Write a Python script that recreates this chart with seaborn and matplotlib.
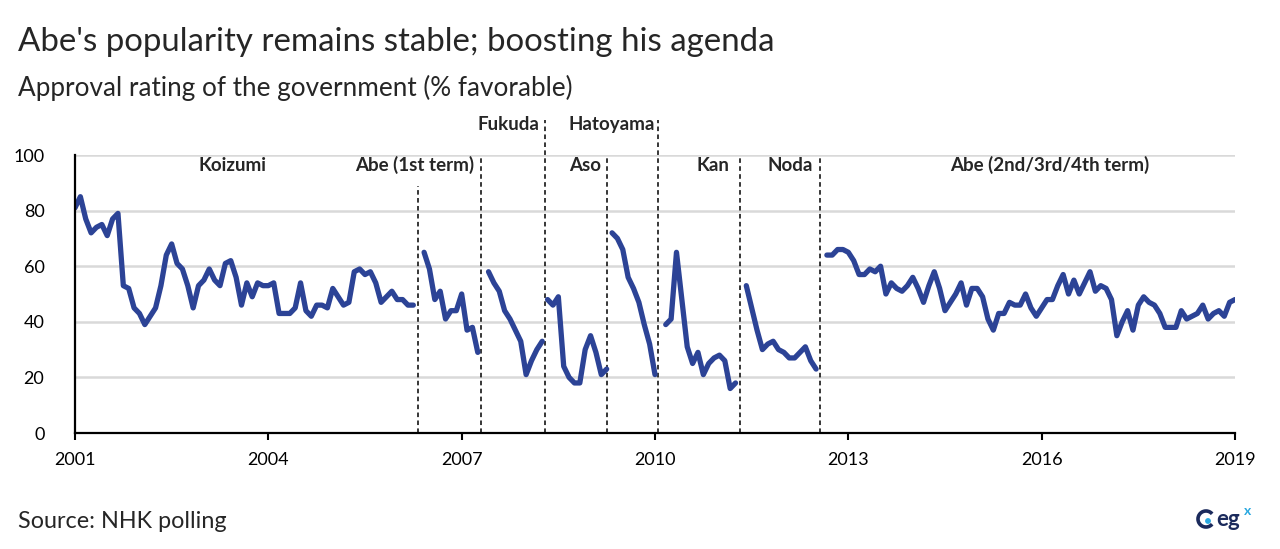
import numpy as np
import pandas as pd
import matplotlib
matplotlib.use("Agg")
import matplotlib.pyplot as plt
from matplotlib.patches import Arc, Circle
from matplotlib.transforms import IdentityTransform
import seaborn as sns

# monthly approval ratings (% favorable), first point = month 0 of the series
koizumi = [81, 85, 77, 72, 74, 75, 71, 77, 79, 53, 52, 45, 43, 39, 42, 45,
           53, 64, 68, 61, 59, 53, 45, 53, 55, 59, 55, 53, 61, 62, 56, 46,
           54, 49, 54, 53, 53, 54, 43, 43, 43, 45, 54, 44, 42, 46, 46, 45,
           52, 49, 46, 47, 58, 59, 57, 58, 54, 47, 49, 51, 48, 48, 46, 46]
abe1 = [65, 59, 48, 51, 41, 44, 44, 50, 37, 38, 29]
fukuda = [58, 54, 51, 44, 41, 37, 33, 21, 26, 30, 33]
aso = [48, 46, 49, 24, 20, 18, 18, 30, 35, 29, 21, 23]
hatoyama = [72, 70, 66, 56, 52, 47, 39, 32, 21]
kan = [39, 41, 65, 48, 31, 25, 29, 21, 25, 27, 28, 26, 16, 18]
noda = [53, 45, 37, 30, 32, 33, 30, 29, 27, 27, 29, 31, 26, 23]
abe2 = [64, 64, 66, 66, 65, 62, 57, 57, 59, 58, 60, 50, 54, 52, 51, 53,
        56, 52, 47, 53, 58, 52, 44, 47, 50, 54, 46, 52, 52, 49, 41, 37,
        43, 43, 47, 46, 46, 50, 45, 42, 45, 48, 48, 53, 57, 50, 55, 50,
        54, 58, 51, 53, 52, 48, 35, 40, 44, 37, 46, 49, 47, 46, 43, 38,
        38, 38, 44, 41, 42, 43, 46, 41, 43, 44, 42, 47, 48]
segments = [koizumi, abe1, fukuda, aso, hatoyama, kan, noda, abe2]
segment_start = [0, 65, 77, 88, 100, 110, 125, 140]  # month index

# change of prime minister (decimal year) and label text
pm_change = [2006.32, 2007.30, 2008.29, 2009.26, 2010.05, 2011.32, 2012.56]
pm_names = ["Koizumi", "Abe (1st term)", "Fukuda", "Aso", "Hatoyama",
            "Kan", "Noda", "Abe (2nd/3rd/4th term)"]
year_ticks = [2001, 2004, 2007, 2010, 2013, 2016, 2019]

rows = []
for k, (vals, start) in enumerate(zip(segments, segment_start)):
    for j, v in enumerate(vals):
        rows.append({"year": 2001 + (start + j) / 12, "approval": v, "pm": k})
df = pd.DataFrame(rows)

sns.set_theme(style="white")
plt.rcParams["font.family"] = ["Lato", "DejaVu Sans"]

fig = plt.figure(figsize=(12.8, 5.49), dpi=100)
ax = fig.add_axes([75 / 1280, 1 - 433 / 549, 1160 / 1280, 278 / 549])

for yv in [20, 40, 60, 80, 100]:
    ax.axhline(yv, color="#D9D9D9", lw=1.8, zorder=0)

sns.lineplot(data=df, x="year", y="approval", units="pm", estimator=None,
             color="#2C4396", lw=3.8, ax=ax, solid_capstyle="round")

# dashed boundaries: heights where each line stops
line_top = [89, 100, 112.6, 100, 112.6, 100, 100]
for xv, top in zip(pm_change, line_top):
    ax.plot([xv, xv], [0, top], color="black", lw=1.1, ls=(0, (3, 2.2)),
            clip_on=False, zorder=1)

label_pos = [(2003.45, 96.4, "center"), (2007.19, 96.4, "right"),
             (2008.20, 111, "right"), (2009.16, 96.4, "right"),
             (2010.00, 111, "right"), (2011.16, 96.4, "right"),
             (2012.45, 96.4, "right"), (2016.13, 96.4, "center")]
for name, (xv, yv, ha) in zip(pm_names, label_pos):
    ax.text(xv, yv, name, ha=ha, va="center", fontsize=13.5,
            fontweight="bold", clip_on=False)

ax.set_xlim(2001, 2019)
ax.set_ylim(0, 100)
ax.set_xticks(year_ticks)
ax.set_xticklabels([str(y) for y in year_ticks])
ax.set_yticks([0, 20, 40, 60, 80, 100])
ax.tick_params(axis="x", bottom=True, direction="out", length=5, width=1.5,
               pad=9, labelsize=13, colors="black")
ax.tick_params(axis="y", left=False, pad=16, labelsize=13, colors="black")
ax.set_xlabel("")
ax.set_ylabel("")
for s in ["top", "right"]:
    ax.spines[s].set_visible(False)
for s in ["left", "bottom"]:
    ax.spines[s].set_color("black")
    ax.spines[s].set_linewidth(1.6)

fig.text(18 / 1280, 1 - 42 / 549, "Abe's popularity remains stable; boosting his agenda",
         fontsize=23.8, va="center", ha="left")
fig.text(18 / 1280, 1 - 88 / 549, "Approval rating of the government (% favorable)",
         fontsize=18.8, va="center", ha="left")
fig.text(18 / 1280, 1 - 521 / 549, "Source: NHK polling",
         fontsize=16.8, va="center", ha="left")

# small egx logo
fig.add_artist(Arc((1206, 549 - 519), 16, 16, theta1=40, theta2=320, lw=2.6,
                   color="#1B2A5C", transform=IdentityTransform()))
fig.add_artist(Circle((1208, 549 - 521), 2.2, color="#29A8E0",
                      transform=IdentityTransform()))
fig.text(1216 / 1280, 1 - 520 / 549, "eg", fontsize=16, fontweight="bold",
         color="#1B2A5C", va="center", ha="left")
fig.text(1244 / 1280, 1 - 511 / 549, "x", fontsize=10, fontweight="bold",
         color="#29A8E0", va="center", ha="left")

fig.savefig("out.png", dpi=100)
